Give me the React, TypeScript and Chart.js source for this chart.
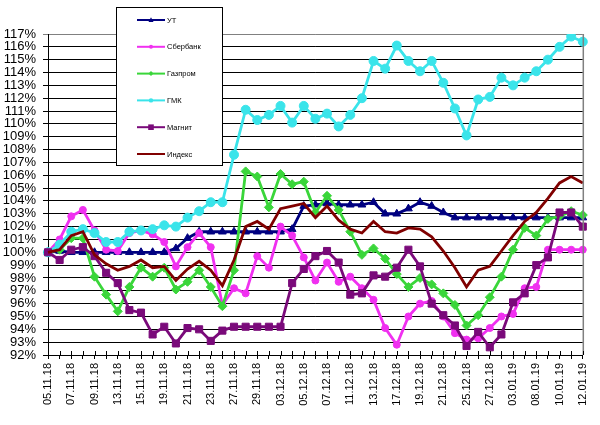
import React, { useEffect, useRef } from "react";
import { Chart, registerables } from "chart.js";

Chart.register(...registerables);

const labels = [
  "05.11.18", "06.11.18", "07.11.18", "08.11.18", "09.11.18", "12.11.18", "13.11.18", "14.11.18",
  "15.11.18", "16.11.18", "19.11.18", "20.11.18", "21.11.18", "22.11.18", "23.11.18", "26.11.18",
  "27.11.18", "28.11.18", "29.11.18", "30.11.18", "03.12.18", "04.12.18", "05.12.18", "06.12.18",
  "07.12.18", "10.12.18", "11.12.18", "12.12.18", "13.12.18", "14.12.18", "17.12.18", "18.12.18",
  "19.12.18", "20.12.18", "21.12.18", "24.12.18", "25.12.18", "26.12.18", "27.12.18", "28.12.18",
  "03.01.19", "04.01.19", "08.01.19", "09.01.19", "10.01.19", "11.01.19", "12.01.19",
];

const seriesNames = ["УТ", "Сбербанк", "Газпром", "ГМК", "Магнит", "Индекс"];

const ut = [
  100, 100.1, 100, 100, 100, 100, 100, 100, 100, 100, 100, 100.3, 101.1, 101.6, 101.6, 101.6,
  101.6, 101.6, 101.6, 101.6, 101.6, 101.8, 103.6, 103.7, 103.8, 103.7, 103.7, 103.7, 103.9, 103.0,
  103.0, 103.4, 103.9, 103.6, 103.1, 102.7, 102.7, 102.7, 102.7, 102.7, 102.7, 102.7, 102.7, 102.7,
  102.7, 102.7, 102.7,
];

const sber = [
  100, 101.0, 102.8, 103.3, 101.7, 100.2, 100.1, 101.5, 101.7, 101.4, 100.8, 98.9, 100.4, 101.5,
  100.4, 95.9, 97.2, 96.8, 99.7, 98.8, 102.0, 101.3, 99.6, 97.8, 99.2, 97.7, 98.1, 97.2, 96.3, 94.1,
  92.8, 95.0, 96.0, 96.2, 95.0, 93.7, 93.2, 93.3, 94.1, 95.0, 95.2, 97.2, 97.3, 100.2, 100.2, 100.2,
  100.2,
];

const gazprom = [
  100, 100.2, 101.1, 101.1, 98.1, 96.7, 95.4, 97.3, 98.8, 98.1, 98.8, 97.1, 97.7, 98.6, 97.3, 95.8,
  98.6, 106.3, 105.9, 103.5, 106.1, 105.3, 105.5, 103.1, 104.4, 103.3, 101.6, 99.8, 100.3, 99.5,
  98.3, 97.3, 98.0, 97.5, 96.8, 95.9, 94.3, 95.1, 96.5, 98.1, 100.2, 101.9, 101.3, 102.6, 102.8,
  103.2, 102.9,
];

const gmk = [
  100, 100.6, 101.6, 101.8, 101.5, 100.8, 100.8, 101.6, 101.7, 101.8, 102.1, 102.0, 102.7, 103.2,
  103.9, 103.9, 107.6, 111.1, 110.3, 110.7, 111.4, 110.1, 111.4, 110.4, 110.8, 109.8, 110.7, 112.0,
  114.9, 114.3, 116.1, 114.9, 114.1, 114.9, 113.2, 111.2, 109.1, 111.9, 112.1, 113.6, 113.0, 113.6,
  114.1, 115.0, 116.0, 116.8, 116.4,
];

const magnit = [
  100, 99.4, 100.2, 100.4, 99.7, 98.4, 97.6, 95.5, 95.3, 93.6, 94.2, 92.9, 94.1, 94.0, 93.1, 93.9,
  94.2, 94.2, 94.2, 94.2, 94.2, 97.6, 98.7, 99.7, 100.1, 99.2, 96.7, 96.8, 98.2, 98.1, 98.8, 100.2,
  98.9, 96.0, 95.1, 94.3, 92.7, 93.8, 92.6, 93.6, 96.1, 96.8, 99.0, 99.6, 103.1, 103.1, 102.0,
];

const indeks = [
  100, 100.2, 101.3, 101.6, 99.8, 99.1, 98.6, 98.9, 99.4, 98.8, 98.9, 97.8, 98.7, 99.3, 98.6, 97.4,
  99.4, 102.0, 102.4, 101.8, 103.4, 103.6, 103.8, 102.7, 103.6, 102.5, 101.8, 101.5, 102.4, 101.6,
  101.5, 101.9, 101.8, 101.2, 100.1, 98.8, 97.3, 98.6, 98.9, 100.1, 101.3, 102.4, 103.1, 104.2,
  105.4, 105.9, 105.4,
];

const yMin = 92;
const yMax = 117;

const FONT = "'Liberation Sans', Arial, sans-serif";

type Style = { color: string; point: string | false; radius: number; legendRadius: number };

const styles: Style[] = [
  { color: "#000080", point: "triangle", radius: 4.5, legendRadius: 2.5 },
  { color: "#f030f0", point: "circle", radius: 3.5, legendRadius: 2 },
  { color: "#3ad63a", point: "rectRot", radius: 4.5, legendRadius: 2.5 },
  { color: "#3ae4ea", point: "circle", radius: 4.5, legendRadius: 2.2 },
  { color: "#7a0a7a", point: "rect", radius: 5, legendRadius: 2.8 },
  { color: "#800000", point: false, radius: 0, legendRadius: 0 },
];

const seriesData = [ut, sber, gazprom, gmk, magnit, indeks];

function drawMarker(ctx: CanvasRenderingContext2D, style: string, x: number, y: number, r: number) {
  ctx.beginPath();
  if (style === "triangle") {
    ctx.moveTo(x, y - r * 1.1);
    ctx.lineTo(x + r, y + r * 0.8);
    ctx.lineTo(x - r, y + r * 0.8);
    ctx.closePath();
  } else if (style === "circle") {
    ctx.arc(x, y, r, 0, Math.PI * 2);
  } else if (style === "rectRot") {
    ctx.moveTo(x, y - r);
    ctx.lineTo(x + r, y);
    ctx.lineTo(x, y + r);
    ctx.lineTo(x - r, y);
    ctx.closePath();
  } else if (style === "rect") {
    ctx.rect(x - r, y - r, r * 2, r * 2);
  }
  ctx.fill();
}

const decorPlugin = {
  id: "decor",
  afterDatasetsDraw(chart: any) {
    const ctx: CanvasRenderingContext2D = chart.ctx;
    const area = chart.chartArea;
    const xScale = chart.scales.x;
    ctx.save();
    ctx.strokeStyle = "#808080";
    ctx.lineWidth = 1.5;
    ctx.beginPath();
    ctx.moveTo(area.right + 0.5, area.top);
    ctx.lineTo(area.right + 0.5, area.bottom);
    ctx.stroke();
    ctx.strokeStyle = "#000";
    ctx.lineWidth = 1;
    for (let i = 0; i < labels.length; i++) {
      const px = Math.round(xScale.getPixelForValue(i)) + 0.5;
      ctx.beginPath();
      ctx.moveTo(px, area.bottom - 4);
      ctx.lineTo(px, area.bottom);
      ctx.stroke();
    }
    ctx.restore();
  },
  afterDraw(chart: any) {
    const ctx: CanvasRenderingContext2D = chart.ctx;
    ctx.save();
    const bx = 116.5;
    const by = 7.5;
    const bw = 106;
    const bh = 158;
    ctx.fillStyle = "#fff";
    ctx.fillRect(bx, by, bw, bh);
    ctx.strokeStyle = "#000";
    ctx.lineWidth = 1;
    ctx.strokeRect(bx, by, bw, bh);
    ctx.font = `7.5px ${FONT}`;
    ctx.textBaseline = "middle";
    ctx.textAlign = "left";
    for (let k = 0; k < seriesNames.length; k++) {
      const st = styles[k];
      const y = 20 + k * 26.8;
      ctx.strokeStyle = st.color;
      ctx.lineWidth = 2;
      ctx.beginPath();
      ctx.moveTo(137, y);
      ctx.lineTo(165, y);
      ctx.stroke();
      if (st.point) {
        ctx.fillStyle = st.color;
        drawMarker(ctx, st.point as string, 151, y, st.legendRadius);
      }
      ctx.fillStyle = "#000";
      ctx.fillText(seriesNames[k], 167, y + 0.5);
    }
    ctx.restore();
  },
};

export default function App() {
  const ref = useRef<HTMLCanvasElement | null>(null);

  useEffect(() => {
    if (!ref.current) return;
    const datasets = seriesNames.map((name, k) => {
      const st = styles[k];
      return {
        label: name,
        data: seriesData[k],
        borderColor: st.color,
        backgroundColor: st.color,
        borderWidth: 2.8,
        pointStyle: st.point === false ? false : (st.point as any),
        pointRadius: st.radius,
        pointBackgroundColor: st.color,
        pointBorderColor: st.color,
        pointBorderWidth: 1,
        tension: 0,
        fill: false,
        order: seriesNames.length - k,
      };
    });

    const chart = new Chart(ref.current, {
      type: "line",
      data: { labels, datasets: datasets as any },
      plugins: [decorPlugin as any],
      options: {
        animation: false,
        responsive: false,
        maintainAspectRatio: false,
        layout: { padding: { top: 34, right: 10, left: 0, bottom: 0 } },
        plugins: {
          legend: { display: false },
          tooltip: { enabled: false },
        },
        scales: {
          x: {
            type: "category",
            offset: false,
            afterFit: (scale: any) => {
              scale.height = 70;
            },
            border: { display: true, color: "#000", width: 1 },
            grid: {
              drawOnChartArea: false,
              drawTicks: true,
              tickLength: 4,
              color: "#000",
            },
            ticks: {
              autoSkip: false,
              maxRotation: 90,
              minRotation: 90,
              padding: 4,
              color: "#000",
              font: { family: FONT, size: 11 },
              callback: (_v: any, i: number) => (i % 2 === 0 ? labels[i] : ""),
            },
          },
          y: {
            min: yMin,
            max: yMax,
            afterFit: (scale: any) => {
              scale.width = 48;
            },
            border: { display: true, color: "#000", width: 1 },
            grid: {
              color: (c: any) => (c.tick && c.tick.value === yMax ? "#808080" : "#000"),
              lineWidth: 1,
              tickLength: 5,
              drawTicks: true,
            },
            ticks: {
              stepSize: 1,
              autoSkip: false,
              padding: 7,
              color: "#000",
              font: { family: FONT, size: 13 },
              callback: (v: any) => `${v}%`,
            },
          },
        },
      },
    });
    return () => chart.destroy();
  }, []);

  return (
    <div style={{ position: "absolute", left: 0, top: 0, width: 600, height: 425, background: "#fff" }}>
      <canvas ref={ref} width={600} height={425} style={{ display: "block" }} />
    </div>
  );
}
